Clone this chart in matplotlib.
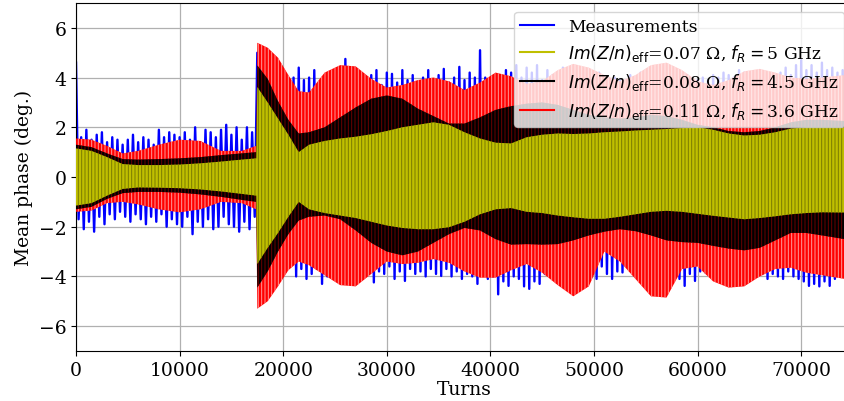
import numpy as np
import matplotlib
matplotlib.use("Agg")
import matplotlib.pyplot as plt
from matplotlib.lines import Line2D

plt.rcParams['font.family'] = ['DejaVu Serif']
plt.rcParams['mathtext.fontset'] = 'dejavusans'
plt.rcParams['hatch.linewidth'] = 0.7

# ---------------- data ----------------
env_turns = [0, 1500, 3000, 4500, 6000, 8000, 10000, 12000, 14000, 16000, 17400,
             17500, 18500, 19500, 20500, 21500, 22500, 24000, 25500, 27000, 28500, 30000,
             31500, 33000, 34500, 36000, 37500, 39000, 40500, 42000, 43500, 45000,
             46500, 48000, 49500, 51000, 52500, 54000, 55500, 57000, 58500, 60000,
             61500, 63000, 64500, 66000, 67500, 69000, 70500, 72000, 74200]

red_hi = [1.55, 1.5, 1.25, 0.95, 1.05, 1.3, 1.5, 1.45, 1.05, 1.05, 1.25,
          5.4, 5.2, 4.8, 4.1, 3.45, 3.4, 4.2, 4.5, 4.45, 3.95, 3.6,
          3.7, 3.9, 4.0, 3.85, 3.5, 3.8, 4.2, 4.05, 3.75, 3.85,
          4.3, 4.55, 4.4, 4.1, 3.85, 4.1, 4.5, 4.6, 4.3, 3.85,
          3.7, 3.9, 4.25, 4.35, 4.2, 4.0, 3.95, 4.0, 4.1]
red_lo = [-1.4, -1.35, -1.05, -1.0, -1.1, -1.3, -1.42, -1.3, -1.0, -1.05, -1.3,
          -5.3, -5.0, -4.4, -3.75, -3.4, -3.55, -3.95, -4.35, -4.4, -3.9, -3.4,
          -3.5, -3.45, -3.3, -3.45, -3.8, -4.05, -4.05, -3.75, -3.5, -3.85,
          -4.35, -4.8, -4.4, -3.0, -3.4, -4.1, -4.8, -4.85, -3.7, -3.6,
          -4.2, -4.45, -4.4, -4.0, -3.7, -3.65, -3.85, -3.95, -4.1]

black_hi = [1.3, 1.2, 0.95, 0.72, 0.7, 0.72, 0.75, 0.8, 0.88, 0.95, 1.0,
            4.49, 3.95, 3.05, 2.3, 1.75, 1.8, 2.0, 2.4, 2.8, 3.15, 3.28,
            3.15, 2.75, 2.45, 2.15, 2.15, 2.4, 2.7, 2.85, 2.95, 3.0,
            2.9, 2.7, 2.5, 2.4, 2.35, 2.4, 2.5, 2.45, 2.3, 2.1,
            2.0, 1.85, 1.8, 1.85, 2.0, 2.2, 2.3, 2.3, 2.25]
black_lo = [-1.3, -1.2, -0.88, -0.65, -0.6, -0.6, -0.63, -0.7, -0.8, -0.92, -1.0,
            -4.45, -3.8, -3.0, -2.3, -1.75, -1.6, -1.55, -1.7, -2.15, -2.65, -3.0,
            -3.15, -3.0, -2.65, -2.3, -2.05, -2.15, -2.5, -2.72, -2.7, -2.72,
            -2.7, -2.55, -2.35, -2.2, -2.1, -2.18, -2.35, -2.55, -2.62, -2.65,
            -2.77, -2.88, -2.95, -2.85, -2.55, -2.25, -2.25, -2.35, -2.5]

yellow_hi = [1.15, 1.05, 0.8, 0.52, 0.48, 0.48, 0.5, 0.55, 0.62, 0.7, 0.75,
             3.62, 3.0, 2.35, 1.7, 1.0, 1.3, 1.45, 1.55, 1.62, 1.72, 1.85,
             2.0, 2.1, 2.2, 2.1, 1.8, 1.55, 1.38, 1.35, 1.6, 1.7,
             1.75, 1.73, 1.75, 1.8, 1.83, 1.87, 1.9, 1.93, 1.97, 2.0,
             1.9, 1.75, 1.67, 1.7, 1.8, 1.95, 2.0, 2.0, 2.0]
yellow_lo = [-1.15, -1.05, -0.75, -0.48, -0.42, -0.43, -0.45, -0.5, -0.58, -0.68, -0.75,
             -3.5, -2.85, -2.25, -1.6, -1.0, -1.3, -1.45, -1.55, -1.65, -1.8, -1.95,
             -2.05, -2.1, -2.1, -2.02, -1.8, -1.5, -1.3, -1.25, -1.4, -1.45,
             -1.55, -1.62, -1.68, -1.68, -1.6, -1.5, -1.4, -1.36, -1.4, -1.48,
             -1.56, -1.63, -1.7, -1.65, -1.58, -1.5, -1.45, -1.42, -1.43]

# measured spike tips, sampled every 500 turns (lows offset by 250 turns)
meas_step = 500
meas_start_a = 0
meas_hi_a = [4.6, 1.6, 1.9, 1.5, 1.7, 1.8, 1.4, 1.6, 1.5, 1.3,
             1.5, 1.7, 1.4, 1.6, 1.5, 1.3, 1.9, 1.6, 1.8, 1.7,
             1.6, 1.8, 1.5, 2.0, 1.4, 1.9, 1.8, 1.6, 1.9, 2.1,
             1.7, 2.0, 1.5, 2.0, 1.8]
meas_lo_a = [-1.7, -2.1, -1.8, -2.2, -1.6, -1.9, -1.5, -1.7, -1.4, -1.6,
             -1.8, -1.5, -1.7, -1.9, -1.6, -1.8, -1.5, -2.0, -1.7, -1.9,
             -2.0, -1.6, -2.3, -1.8, -2.0, -1.7, -2.1, -2.0, -1.6, -1.9,
             -2.0, -2.2, -1.8, -2.1, -1.6]
meas_start_b = 17500
meas_hi_b = [5.0, 4.8, 4.5, 4.2, 4.0, 4.3, 3.6, 4.0, 4.4, 3.9,
             4.0, 4.3, 3.7, 3.9, 3.8, 4.0, 4.2, 4.75, 4.1, 4.0,
             3.9, 3.8, 4.1, 4.3, 3.7, 4.2, 4.15, 3.8, 4.3, 3.9,
             4.1, 3.8, 4.0, 4.3, 3.9, 4.1, 4.35, 3.8, 4.0, 4.43,
             3.9, 4.2, 4.0, 5.1, 4.0, 3.8, 4.1, 3.9, 4.3, 4.2,
             4.5, 4.0, 4.4, 4.2, 4.5, 3.9, 4.3, 4.1, 4.0, 4.4,
             4.2, 4.0, 3.9, 4.1, 4.0, 3.8, 4.2, 3.7, 3.9, 4.0,
             3.9, 3.8, 4.1, 4.0, 4.2, 4.3, 4.1, 4.2, 4.0, 4.3,
             4.1, 3.9, 4.0, 4.1, 3.8, 3.9, 4.0, 3.9, 4.1, 4.0,
             4.2, 4.1, 4.0, 4.3, 4.2, 4.0, 4.1, 4.3, 4.0, 4.1,
             3.9, 4.2, 4.4, 4.1, 4.5, 4.7, 4.3, 4.5, 4.2, 4.6,
             4.3, 4.4, 4.2, 4.3]
meas_lo_b = [-4.8, -4.5, -4.2, -3.9, -3.6, -3.8, -3.5, -4.0, -3.7, -4.1,
             -3.9, -3.7, -4.3, -4.0, -3.8, -4.0, -3.9, -3.7, -4.0, -3.8,
             -3.9, -3.7, -4.24, -3.8, -3.9, -3.6, -4.1, -3.8, -4.18, -3.7,
             -3.9, -3.8, -4.0, -3.7, -3.9, -3.98, -3.7, -4.0, -3.8, -4.1,
             -3.9, -4.0, -4.3, -3.9, -4.1, -4.0, -4.72, -4.2, -4.38, -4.0,
             -4.1, -4.4, -4.5, -4.2, -4.3, -3.9, -3.84, -4.0, -3.9, -4.0,
             -3.8, -3.7, -3.9, -3.8, -4.0, -4.1, -3.6, -3.9, -4.1, -3.8,
             -3.84, -3.6, -3.7, -3.9, -3.8, -3.7, -3.9, -3.8, -3.7, -3.9,
             -3.8, -4.1, -4.38, -3.9, -4.18, -3.8, -3.84, -3.9, -3.7, -3.8,
             -3.9, -3.7, -3.8, -3.9, -3.7, -3.8, -4.0, -3.9, -4.1, -3.9,
             -4.0, -4.1, -3.8, -4.0, -4.1, -4.2, -4.38, -4.3, -4.4, -4.2,
             -4.38, -4.1, -4.0, -4.1]

labels = ["Measurements",
          r"$Im(Z/n)_{\mathrm{eff}}$=0.07 Ω, $f_R=$5 GHz",
          r"$Im(Z/n)_{\mathrm{eff}}$=0.08 Ω, $f_R=$4.5 GHz",
          r"$Im(Z/n)_{\mathrm{eff}}$=0.11 Ω, $f_R=$3.6 GHz"]
colors = ["b", "y", "k", "r"]


def zigzag(start, hi, lo):
    n = min(len(hi), len(lo))
    t = np.empty(2 * n)
    v = np.empty(2 * n)
    t[0::2] = start + meas_step * np.arange(n)
    t[1::2] = start + meas_step * np.arange(n) + meas_step / 2
    v[0::2] = hi[:n]
    v[1::2] = lo[:n]
    return t, v


fig = plt.figure(figsize=(8.44, 4.02), dpi=100)
ax = fig.add_axes([76 / 844, 1 - 352 / 402, (853 - 76) / 844, 348 / 402])

ta, va = zigzag(meas_start_a, meas_hi_a, meas_lo_a)
tb, vb = zigzag(meas_start_b, meas_hi_b, meas_lo_b)
ax.plot(np.concatenate([ta, tb]), np.concatenate([va, vb]), color="b", lw=1.7, zorder=2)

ax.fill_between(env_turns, red_lo, red_hi, facecolor="r", edgecolor="#ff9a9a",
                hatch="|||||", lw=0, zorder=3)
ax.fill_between(env_turns, black_lo, black_hi, facecolor="k", edgecolor="#6a0000",
                hatch="|||||", lw=0, zorder=4)
ax.fill_between(env_turns, yellow_lo, yellow_hi, facecolor="y", edgecolor="#7a7a00",
                hatch="|||||", lw=0, zorder=5)

ax.set_xlim(0, 75000)
ax.set_ylim(-7, 7)
ax.set_xticks([0, 10000, 20000, 30000, 40000, 50000, 60000, 70000])
ax.set_yticks([-6, -4, -2, 0, 2, 4, 6])
ax.tick_params(labelsize=13.5)
ax.grid(True, color="#b0b0b0", lw=0.9, zorder=0)
ax.set_axisbelow(True)
ax.set_xlabel("Turns", fontsize=13.5, labelpad=1)
ax.set_ylabel("Mean phase (deg.)", fontsize=13.5, labelpad=4)

handles = [Line2D([], [], color=c, lw=1.5) for c in colors]
leg = ax.legend(handles, labels, loc="upper right", fontsize=12.3,
                framealpha=0.8, borderpad=0.35, labelspacing=0.45,
                handletextpad=0.8, borderaxespad=0.5)
leg.set_zorder(10)

fig.savefig("out.png", dpi=100)
